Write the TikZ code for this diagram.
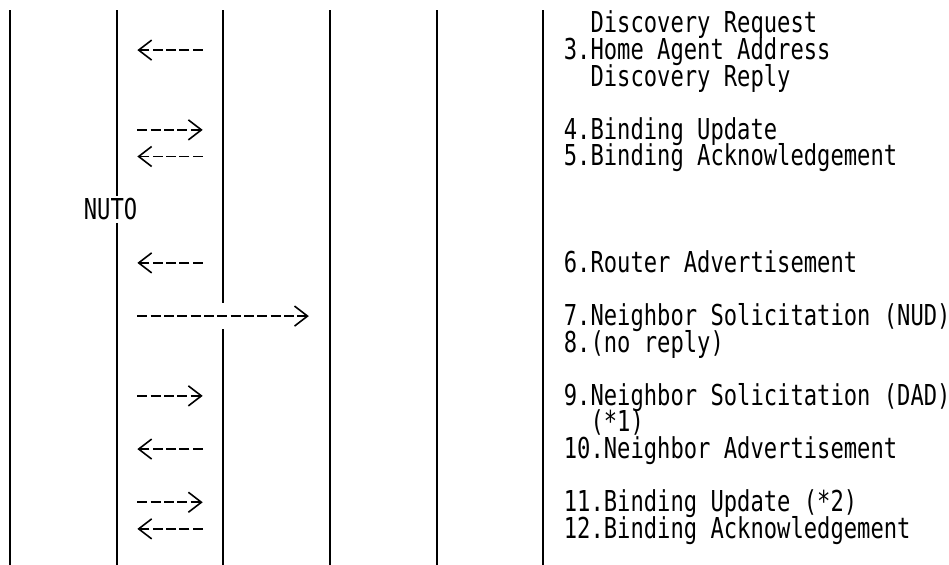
\documentclass[tikz,border=0pt]{standalone}
\usepackage{fontspec}
\newfontfamily\gothic[FakeStretch=0.769]{DejaVu Sans Mono}
\usetikzlibrary{arrows.meta}

\tikzset{
  lifeline/.style={line width=1pt},
  msg/.style={line width=0.8pt, dash pattern=on 5pt off 1.667pt,
    -{Straight Barb[length=6.5pt, width=10pt]}},
  msgtext/.style={anchor=base west, inner sep=0pt,
    font=\gothic\fontsize{14.4pt}{14.4pt}\selectfont},
}

\begin{document}
\begin{tikzpicture}[x=6.6667pt, y=-13.3pt]
\useasboundingbox (-0.2625,-0.8835) rectangle (70.915,20.357);

% lifelines
\foreach \c in {0,24,32,40}
  \draw[lifeline] (\c+0.5,-0.5) -- (\c+0.5,20.6);
\draw[lifeline] (8.5,-0.5) -- (8.5,6.5) (8.5,7.5) -- (8.5,20.6);
\draw[lifeline] (16.5,-0.5) -- (16.5,10.5) (16.5,11.5) -- (16.5,20.6);

% message names
\node[msgtext] (t2b) at (44,0.357) {Discovery Request};
\node[msgtext] (t3a) at (42,1.357) {3.Home Agent Address};
\node[msgtext] (t3b) at (44,2.357) {Discovery Reply};
\node[msgtext] (t4) at (42,4.357) {4.Binding Update};
\node[msgtext] (t5) at (42,5.357) {5.Binding Acknowledgement};
\node[msgtext] (nuto) at (6,7.357) {NUTO};
\node[msgtext] (t6) at (42,9.357) {6.Router Advertisement};
\node[msgtext] (t7) at (42,11.357) {7.Neighbor Solicitation (NUD)};
\node[msgtext] (t8) at (42,12.357) {8.(no reply)};
\node[msgtext] (t9a) at (42,14.357) {9.Neighbor Solicitation (DAD)};
\node[msgtext] (t9b) at (44,15.357) {(*1)};
\node[msgtext] (t10) at (42,16.357) {10.Neighbor Advertisement};
\node[msgtext] (t11) at (42,18.357) {11.Binding Update (*2)};
\node[msgtext] (t12) at (42,19.357) {12.Binding Acknowledgement};

% arrow ends
\coordinate (m3l) at (10.04,1);  \coordinate (m3r) at (14.94,1);
\coordinate (m4l) at (10.04,4);  \coordinate (m4r) at (14.94,4);
\coordinate (m5l) at (10.04,5);  \coordinate (m5r) at (14.94,5);
\coordinate (m6l) at (10.04,9);  \coordinate (m6r) at (14.94,9);
\coordinate (m7l) at (10.04,11); \coordinate (m7r) at (22.9,11);
\coordinate (m9l) at (10.04,14); \coordinate (m9r) at (14.94,14);
\coordinate (m10l) at (10.04,16); \coordinate (m10r) at (14.94,16);
\coordinate (m11l) at (10.04,18); \coordinate (m11r) at (14.94,18);
\coordinate (m12l) at (10.04,19); \coordinate (m12r) at (14.94,19);

% arrows
\draw[msg] (m3r) -- (m3l);
\draw[msg] (m4l) -- (m4r);
\draw[msg] (m5r) -- (m5l);
\draw[msg] (m6r) -- (m6l);
\draw[msg] (m7l) -- (m7r);
\draw[msg] (m9l) -- (m9r);
\draw[msg] (m10r) -- (m10l);
\draw[msg] (m11l) -- (m11r);
\draw[msg] (m12r) -- (m12l);
\end{tikzpicture}
\end{document}
